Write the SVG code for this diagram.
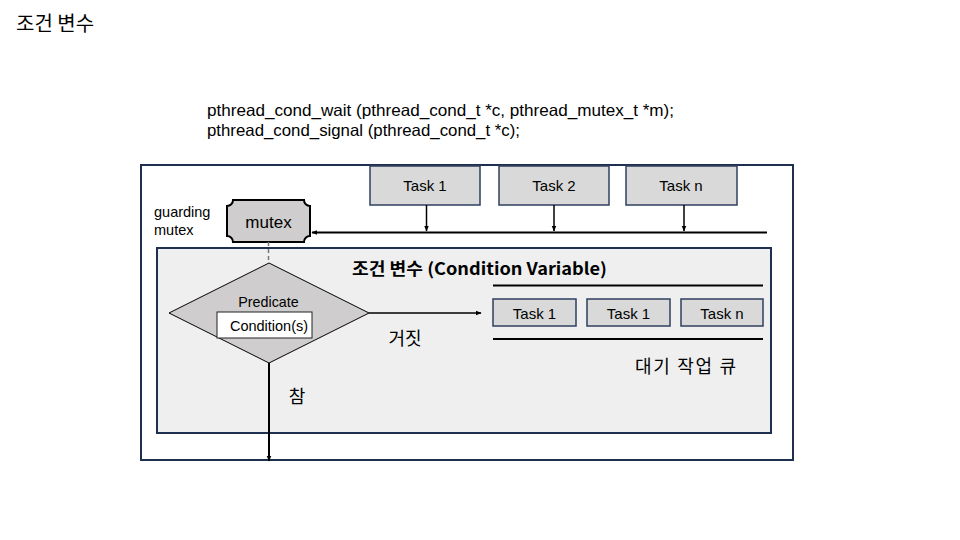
<svg xmlns="http://www.w3.org/2000/svg" width="960" height="540" viewBox="0 0 960 540">
<defs>
<marker id="ah" viewBox="0 0 10 10" refX="9" refY="5" markerWidth="6" markerHeight="6" markerUnits="userSpaceOnUse" orient="auto">
<path d="M0,1 L10,5 L0,9 Z" fill="#000"/>
</marker>
<style>
text{font-family:"Liberation Sans","Noto Sans CJK KR",sans-serif;fill:#000}
.ko{font-family:"Noto Sans CJK KR","Liberation Sans",sans-serif}
.task{fill:#d9d9d9;stroke:#2f3f5e;stroke-width:1.5}
.frame{stroke:#1f2f50;stroke-width:2}
.lbl{font-size:15px;text-anchor:middle}
.con{stroke:#000;stroke-width:1.5;fill:none}
</style>
</defs>
<rect width="960" height="540" fill="#fff"/>
<text class="ko" x="16" y="31" font-size="20">조건 변수</text>
<text x="207" y="116" font-size="16.5" textLength="467" lengthAdjust="spacingAndGlyphs">pthread_cond_wait (pthread_cond_t *c, pthread_mutex_t *m);</text>
<text x="207" y="136" font-size="16.5" textLength="313" lengthAdjust="spacingAndGlyphs">pthread_cond_signal (pthread_cond_t *c);</text>

<g id="outer"><rect class="frame" x="141" y="165" width="652" height="295" fill="#fff"/></g>
<g id="condvar">
<rect class="frame" x="157" y="248" width="614" height="185" fill="#efefef"/>
<text x="352" y="275" font-size="17" font-weight="bold" class="ko" textLength="255" lengthAdjust="spacingAndGlyphs">조건 변수 (Condition Variable)</text>
</g>

<g id="task1"><rect class="task" x="370" y="166" width="110" height="39"/><text class="lbl" x="425" y="191">Task 1</text></g>
<g id="task2"><rect class="task" x="499" y="166" width="110" height="39"/><text class="lbl" x="554" y="191">Task 2</text></g>
<g id="taskn"><rect class="task" x="626" y="166" width="111" height="39"/><text class="lbl" x="681" y="191">Task n</text></g>

<g id="mutex">
<path d="M233,200 H304 A6 6 0 0 0 310,206 V236 A6 6 0 0 0 304,242 H233 A6 6 0 0 0 227,236 V206 A6 6 0 0 0 233,200 Z" fill="#cfcdcd" stroke="#000" stroke-width="2"/>
<text x="268.5" y="227.5" font-size="17" text-anchor="middle">mutex</text>
</g>
<g id="guarding-label">
<text x="154" y="217" font-size="14.5">guarding</text>
<text x="154" y="235" font-size="14.5">mutex</text>
</g>

<g id="predicate">
<path d="M269,263 L369,313 L269,363 L169,313 Z" fill="#cfcdcd" stroke="#000" stroke-width="1"/>
<text x="268.5" y="307" font-size="14.3" text-anchor="middle">Predicate</text>
<rect x="217" y="312" width="95" height="26" fill="#fff" stroke="#222" stroke-width="1"/>
<text x="269" y="331" font-size="14.5" text-anchor="middle">Condition(s)</text>
</g>

<g id="queue">
<line x1="493" y1="285.5" x2="763" y2="285.5" stroke="#000" stroke-width="2"/>
<line x1="493" y1="339" x2="763" y2="339" stroke="#000" stroke-width="2"/>
<g id="q1"><rect class="task" x="493" y="299" width="83" height="27"/><text class="lbl" x="534.5" y="318.5">Task 1</text></g>
<g id="q2"><rect class="task" x="587" y="299" width="83" height="27"/><text class="lbl" x="628.5" y="318.5">Task 1</text></g>
<g id="q3"><rect class="task" x="681" y="299" width="82" height="27"/><text class="lbl" x="722" y="318.5">Task n</text></g>
<text class="ko" x="635" y="373" font-size="18" textLength="101" lengthAdjust="spacing">대기 작업 큐</text>
</g>

<g id="connectors">
<line class="con" x1="426.5" y1="205" x2="426.5" y2="231" marker-end="url(#ah)"/>
<line class="con" x1="554" y1="205" x2="554" y2="231" marker-end="url(#ah)"/>
<line class="con" x1="684" y1="205" x2="684" y2="231" marker-end="url(#ah)"/>
<line x1="767" y1="232.5" x2="312" y2="232.5" stroke="#000" stroke-width="2" marker-end="url(#ah)"/>
<line x1="268.5" y1="242" x2="268.5" y2="263" stroke="#777" stroke-width="1.5" stroke-dasharray="4,3"/>
<line class="con" x1="369" y1="313" x2="481" y2="313" marker-end="url(#ah)"/>
<line x1="269" y1="363" x2="269" y2="461" stroke="#000" stroke-width="2" marker-end="url(#ah)"/>
<text class="ko" x="405" y="345" font-size="18" text-anchor="middle">거짓</text>
<text class="ko" x="297" y="403" font-size="18" text-anchor="middle">참</text>
</g>
</svg>
